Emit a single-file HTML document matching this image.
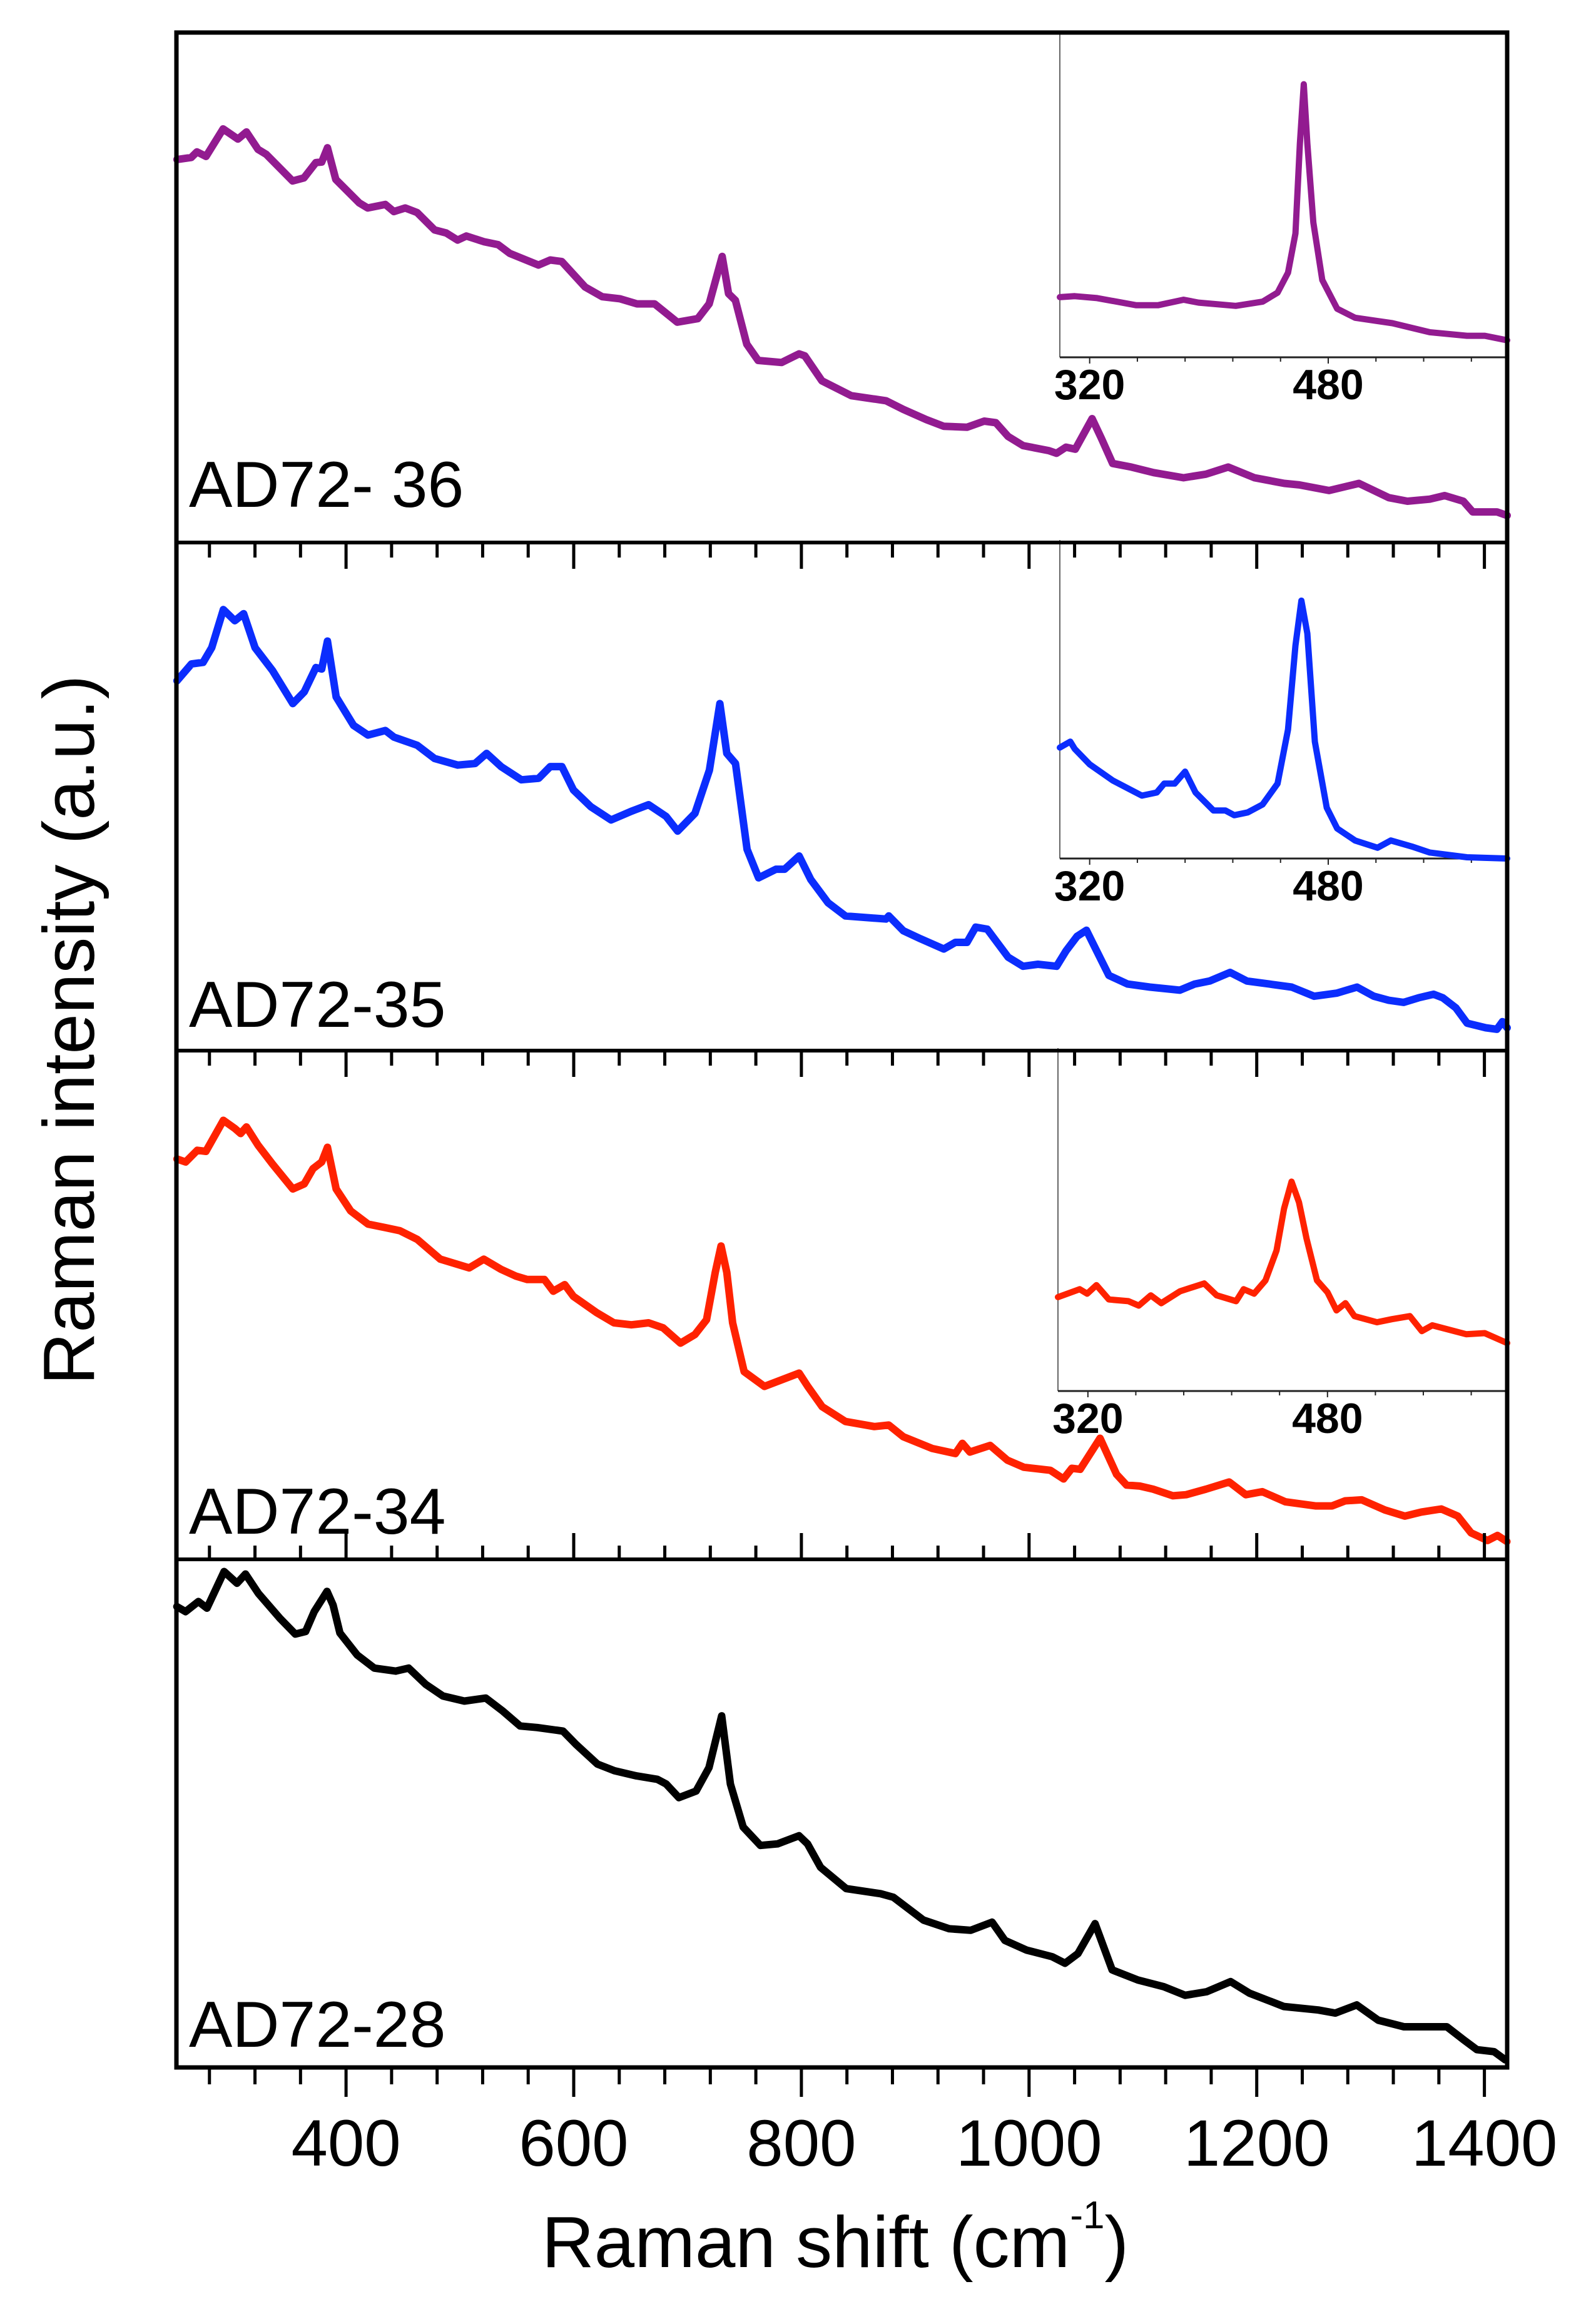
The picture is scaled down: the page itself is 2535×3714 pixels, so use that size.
<!DOCTYPE html>
<html>
<head>
<meta charset="utf-8">
<style>
html,body{margin:0;padding:0;background:#fff;}
svg{display:block;}
text{font-family:"Liberation Sans",Arial,sans-serif;}
</style>
</head>
<body>
<svg id="chart" width="2535" height="3714" viewBox="0 0 2535 3714" xmlns="http://www.w3.org/2000/svg">
  <rect x="0" y="0" width="2535" height="3714" fill="#fff"/>
  <g id="series"></g>
  <g id="insets"></g>
  <g id="axes"></g>
  <text transform="translate(150,1646) rotate(-90)" text-anchor="middle" font-size="116" fill="#000">Raman intensity (a.u.)</text>
  <text x="1335" y="3623" text-anchor="middle" font-size="116" fill="#000">Raman shift (cm<tspan font-size="62" dy="-62">-1</tspan><tspan dy="62">)</tspan></text>
</svg>
<script>
// ---- data ----
const p1X=[251.5,264,269,277,292,305,312.5,322.6,330,353,363,373.5,378.6,383.7,391,411.6,419,434.5,442,452,462.5,477.7,488,498,505.7,521,533.6,543.8,569,579.4,589.5,610,625,640.4,655.6,671,691,709,719,730.4,736,742,752,762,782.7,798,803,818,843.8,874.3,889.5,909.8,925,945.4,960.6,970.8,981.6,994.7,1017.6,1024.2,1032.4,1040.6,1055.4,1063.6,1073.4,1089.8,1109.5,1135.7,1155.3,1175,1198,1224.2,1237.3,1263.5,1289.8,1302.9,1316,1332.4,1352,1365.1,1381.5,1389.7,1411,1420];
const p1Y=[75.1,75.5,76.6,75.7,81.1,79.1,80.5,77.1,76.1,70.9,71.5,74.5,74.6,77.4,71.2,66.6,65.6,66.3,64.9,65.6,64.7,61.3,60.7,59.3,60.1,59,58.4,56.7,54.4,55.4,55.1,50.1,48.2,47.8,46.8,46.8,43.2,43.9,46.8,56.1,48.8,47.5,38.9,35.7,35.3,37,36.6,31.7,28.8,27.8,26.1,24.1,22.8,22.6,23.8,23.5,20.8,19,18,17.5,18.7,18.3,24.3,20.4,15.5,14.8,13.7,12.7,13.4,14.8,12.7,11.6,11.3,10.2,11.6,10.2,8.8,8.1,8.5,9.2,8.1,6,6,5.3];
const p2X=[251.5,264.2,274.4,282,292.2,302.3,310,320.1,335.4,353.2,363.3,373.5,378.6,383.7,391.3,406.6,419.3,434.5,442.1,462.5,477.7,498.1,513.3,523.5,536.2,554,569.2,579.4,589.6,599.7,615,632.8,650.6,665.8,681.1,691.3,706.5,719.2,728.4,734.5,742.1,752.3,762.4,777.7,785.3,798,808.2,823.4,838.7,874.3,876.8,889.5,904.8,925.1,935.3,945.5,953.1,963.3,981.6,994.7,1007.8,1024.2,1032.4,1042.2,1050.4,1057,1070.1,1086.5,1106.2,1132.4,1145.5,1158.6,1176.6,1191.4,1211.1,1230.7,1250.4,1270.1,1288.1,1302.9,1316,1329.1,1342.2,1355.3,1363.5,1375,1384.8,1401.2,1411,1415.9,1420];
const p2Y=[72.8,76.1,76.4,79.3,86.8,84.6,86,79.3,74.8,68.3,70.6,75.4,75.1,80.6,69.6,64,62.1,63,61.7,60.1,57.5,56.2,56.5,58.5,55.9,53.3,53.6,55.9,55.9,51.3,48,45.4,47.1,48.4,46.1,43.2,46.7,55.2,68.3,58.5,56.5,39.6,34,35.7,35.7,38.3,33.7,29.1,26.5,25.9,26.5,23.6,22,20,21.3,21.3,24.3,23.9,18.4,16.6,17,16.6,19.6,22.5,23.7,20.7,14.8,13.1,12.5,11.9,13.1,13.7,15.4,13.7,13.1,12.5,10.7,11.3,12.5,10.7,9.9,9.5,10.4,11.1,10.4,8.4,5.4,4.5,4.2,5.7,4.5];
const p3X=[251.5,259.1,269.3,276.9,292.2,302.3,307.4,312.5,322.7,335.4,353.2,363.3,371,378.6,383.7,391.3,404,419.3,434.5,447.2,462.5,482.8,508.2,521,536.2,549,559.1,574.3,582,592.1,599.7,620.1,635.3,650.6,665.8,678.6,693.8,706.5,716.7,724.3,729.4,734.5,739.6,749.7,767.5,782.8,798,805.6,818.3,838.7,864.1,876.8,889.5,914.9,935.3,941.4,948,965.8,980.9,995.4,1018.7,1030.3,1037.6,1044.9,1062.4,1076.9,1085.6,1097.3,1108.9,1126.4,1138,1155.5,1175.8,1190.4,1204.9,1225.3,1251.5,1266.1,1277.7,1292.2,1312.6,1330.1,1344.6,1362.1,1376.6,1388.3,1402.8,1411.5,1419.7];
const p3Y=[78.7,78.1,80.4,80.2,86.3,84.7,83.7,85,81.4,77.7,72.8,73.8,76.8,78.1,81,72.8,68.5,65.9,65.2,64.6,62.9,59,57.3,59,57,55.7,55,55,52.7,54,51.7,48.5,46.5,46.1,46.5,45.5,42.5,44.2,47.1,56.4,61.6,56.4,46.5,36.9,34,35.3,36.6,34,30,27.1,26.1,26.4,24.1,21.8,20.8,22.8,21.1,22.4,19.5,18.1,17.5,15.8,17.9,17.7,23.8,16.7,14.6,14.4,13.8,12.5,12.7,13.8,15.2,12.7,13.3,11.3,10.5,10.5,11.5,11.7,9.7,8.5,9.3,9.9,8.5,5.2,3.7,4.7,3.5];
const p4X=[251.4,259,270.3,277.8,292.9,304.2,311.7,323,341.9,355.4,364.5,372,383.3,388.6,394.6,409.7,424.8,443.6,455,470,485.1,503.9,522.8,537.9,552.9,568,590.6,601.9,620.8,635.8,654.7,673.5,681.1,692.4,707.5,718.8,730,737.6,748.9,764,779,797.9,805.4,816.8,839.4,869.5,880.8,907.2,929.8,948.7,967.5,978.8,997.7,1020.3,1031.6,1042.9,1058,1073,1095.7,1118.3,1137.1,1156,1177.1,1193.7,1223.8,1254,1269,1287.9,1306.7,1329.3,1367,1382.1,1393.4,1408.5,1418.3];
const p4Y=[90.7,89.7,91.7,90.4,97.6,95.3,97.1,93.3,88.4,85.3,85.8,89.7,93.7,91,85.5,81.2,78.6,78,78.6,75.4,73.1,72.1,72.7,70.1,67.2,66.9,66.2,63.6,59.7,58.4,57.4,56.7,55.8,53.1,54.4,59,69.2,55.8,47.3,43.7,44,45.6,44,39.4,35.2,34.2,33.5,29,27.3,27,28.6,25,23.1,21.8,20.5,22.4,28.3,19.2,17.2,15.9,14.2,14.9,16.9,14.6,12,11.3,10.7,12.3,9.3,8,8,5.4,3.5,3.1,1.5];
// insets
const i1X=[300,310,325,351,366,383,393,418,436,446,453,458,461,463.6,466,470,476,486,498,523,548,573,585,600];
const i1Y=[18.7,19,18.4,16.2,16.2,17.9,17,16,17.3,20.1,26.3,38.5,66.5,84.9,66.5,41.9,24,15.1,12.3,10.6,7.8,6.7,6.7,5.3];
const i2X=[300,307,310,320,335.5,355,365,370,377,384,391,403,411,417,426,436,446,453,458,462,466,471,479,486,498,513,522,536,548,573,600];
const i2Y=[35.1,37,34.7,29.8,24.7,19.9,20.9,23.7,23.7,27.5,20.9,15.2,15.2,13.7,14.6,17.1,23.7,40.8,67.4,81.6,71.2,37,16.1,9.5,5.7,3.4,5.7,3.8,1.9,0.4,0];
const i3X=[300,314.5,319.5,325.7,334,347,354,362,369,381.5,397.7,406,419,424,431,438.6,446,451,456,461,466,473,480,486,492,498,513,523,535,543,550,572.6,585,600];
const i3Y=[27.6,29.9,28.6,31.1,26.9,26.4,25.1,28.1,25.8,29.3,31.6,28.1,26.4,29.9,28.6,32.5,41.3,53.6,61.5,55.4,44.8,32.5,29,23.7,25.8,22,20.2,21.1,22,17.6,19.3,16.7,17,14.1];
const xTicks=[400,600,800,1000,1200,1400];
const xTickLabels=["400","600","800","1000","1200","1400"];
const insetTickLabels=["320","480"];
const sampleNames=["AD72- 36","AD72-35","AD72-34","AD72-28"];

// ---- geometry ----
const NS="http://www.w3.org/2000/svg";
const L=282,R=2409;
const panels=[[52,867],[867,1679],[1679,2492],[2492,3304]];
const colors=["#921b90","#0b2dfd","#ff2200","#000000"];
const X0=251,X1=1420;
function xs(v){return L+(v-X0)/(X1-X0)*(R-L);}
function ys(p,v){const t=panels[p][0],b=panels[p][1];return b-v/100*(b-t);}
const insetGeo=[{l:1694,t:57,b:571},{l:1694,t:867,b:1372},{l:1691,t:1679,b:2223}];
function ixs(g,v){return g.l+(v-300)/300*(R-g.l);}
function iys(g,v){return g.b-v/100*(g.b-g.t);}

function mk(tag,attrs,parent){const e=document.createElementNS(NS,tag);for(const k in attrs)e.setAttribute(k,attrs[k]);parent.appendChild(e);return e;}

const series=document.getElementById('series');
const allX=[p1X,p2X,p3X,p4X],allY=[p1Y,p2Y,p3Y,p4Y];
const seriesNames=["spectrum-ad72-36","spectrum-ad72-35","spectrum-ad72-34","spectrum-ad72-28"];
for(let p=0;p<4;p++){
  let d="";
  for(let i=0;i<allX[p].length;i++){d+=(i?"L":"M")+xs(allX[p][i]).toFixed(1)+","+ys(p,allY[p][i]).toFixed(1);}
  const path=mk('path',{d:d,fill:"none",stroke:colors[p],"stroke-width":12,"stroke-linejoin":"round","stroke-linecap":"round"},series);
  
  
  const lab=mk('text',{x:302,y:[810,1641,2451,3271][p],"font-size":104,fill:"#000"},series);
  lab.textContent=sampleNames[p];
  
  
}

// insets
const insets=document.getElementById('insets');
const iX=[i1X,i2X,i3X],iY=[i1Y,i2Y,i3Y];
for(let k=0;k<3;k++){
  const g=insetGeo[k];
  const grp=mk('g',{},insets);
  
  
  const la=mk('line',{x1:g.l,y1:g.t-4,x2:g.l,y2:g.b,stroke:"#666","stroke-width":2},grp);
  
  
  const ba=mk('line',{x1:g.l,y1:g.b,x2:R,y2:g.b,stroke:"#222","stroke-width":3},grp);
  
  
  for(let v=320;v<600;v+=32){
    const major=(v===320||v===480);
    const tk=mk('line',{x1:ixs(g,v),y1:g.b,x2:ixs(g,v),y2:g.b+(major?10:7),stroke:"#222","stroke-width":2},grp);
    
    
  }
  [320,480].forEach((v,j)=>{
    const t=mk('text',{x:ixs(g,v),y:g.b+67,"text-anchor":"middle","font-size":68,"font-weight":"bold",fill:"#000"},grp);
    t.textContent=insetTickLabels[j];
    
    
  });
  let d="";
  for(let i=0;i<iX[k].length;i++){d+=(i?"L":"M")+ixs(g,iX[k][i]).toFixed(1)+","+iys(g,iY[k][i]).toFixed(1);}
  const ip=mk('path',{d:d,fill:"none",stroke:colors[k],"stroke-width":10,"stroke-linejoin":"round","stroke-linecap":"round"},grp);
  
  
}

// axes / frame
const axes=document.getElementById('axes');
const fr=mk('rect',{x:L,y:52,width:R-L,height:3304-52,fill:"none",stroke:"#000","stroke-width":7},axes);


[867,1679,2492].forEach(y=>{
  const s=mk('line',{x1:L,y1:y,x2:R,y2:y,stroke:"#000","stroke-width":6},axes);
  
  
});
function tickSet(y,dir,majLen,minLen,name){
  for(let v=280;v<=1400;v+=40){
    const major=(v%200===0);
    const t=mk('line',{x1:xs(v),y1:y,x2:xs(v),y2:y+dir*(major?majLen:minLen),stroke:"#000","stroke-width":5},axes);
    
    
  }
}
tickSet(867,1,42,24,'panel-tick');
tickSet(1679,1,42,24,'panel-tick');
tickSet(2492,-1,42,22,'panel-tick');
tickSet(3304,1,47,27,'x-tick');
xTicks.forEach((v,j)=>{
  const t=mk('text',{x:xs(v),y:3461,"text-anchor":"middle","font-size":105,fill:"#000"},axes);
  t.textContent=xTickLabels[j];
  
  
});
</script>
</body>
</html>
